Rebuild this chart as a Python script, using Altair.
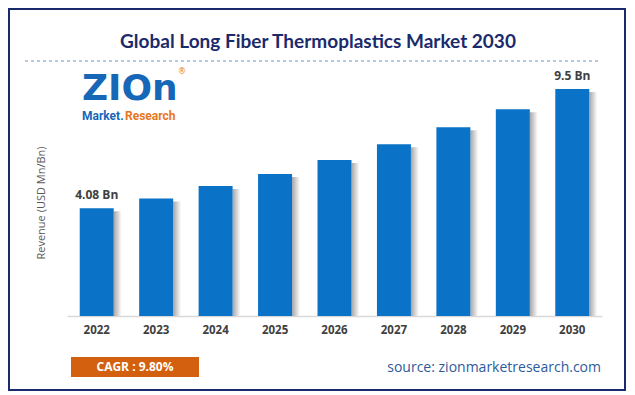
import altair as alt
import pandas as pd

years = ["2022", "2023", "2024", "2025", "2026", "2027", "2028", "2029", "2030"]
revenue = [4.08, 4.53, 5.09, 5.64, 6.27, 6.99, 7.76, 8.58, 9.5]
bar_labels = ["4.08 Bn", "", "", "", "", "", "", "", "9.5 Bn"]

title_text = "Global Long Fiber Thermoplastics Market 2030"
y_title = "Revenue (USD Mn/Bn)"
cagr_text = "CAGR : 9.80%"
source_text = "source: zionmarketresearch.com"

Y_MIN = -0.813
Y_MAX = 9.91
W, H = 535, 236

df = pd.DataFrame({"year": years, "revenue": revenue, "label": bar_labels})

def one(t):
    return pd.DataFrame({"t": [t]})

x_enc = alt.X(
    "year:O",
    scale=alt.Scale(paddingInner=0, paddingOuter=0),
    axis=alt.Axis(
        title=None, labelAngle=0, ticks=False, domainColor="#d9d9d9", domainWidth=1.5,
        labelFont="Open Sans", labelFontWeight="bold", labelFontSize=11.5,
        labelColor="#404040", labelPadding=8,
    ),
)
y_enc = alt.Y("revenue:Q", scale=alt.Scale(domain=[Y_MIN, Y_MAX]), axis=None)

base = alt.Chart(df)

shadow_grad = alt.LinearGradient(
    gradient="linear",
    stops=[alt.GradientStop(color="#a6a6a6", offset=0), alt.GradientStop(color="#ffffff", offset=1)],
    x1=0, x2=1, y1=0, y2=0,
)

shadow = base.mark_bar(size=8, xOffset=21, yOffset=3, color=shadow_grad).encode(
    x=x_enc, y=y_enc, y2=alt.datum(Y_MIN)
)
bars = base.mark_bar(size=34, color="#0a73c8").encode(
    x=x_enc, y=y_enc, y2=alt.datum(Y_MIN)
)
labels = base.mark_text(
    dy=-6, baseline="bottom", font="Open Sans", fontWeight="bold", fontSize=12, color="#404040"
).encode(x=x_enc, y=y_enc, text="label:N")

border = alt.Chart(one("b")).mark_rect(
    fill="transparent", stroke="#1a2b6d", strokeWidth=2
).encode(x=alt.value(-58), x2=alt.value(558), y=alt.value(-71), y2=alt.value(310))

title = alt.Chart(one(title_text)).mark_text(
    font="Lato", fontWeight="bold", fontSize=19, color="#1b2a6b", align="center", baseline="middle"
).encode(x=alt.value(251), y=alt.value(-38), text="t:N")

dash = alt.Chart(one("d")).mark_rule(
    color="#6a93d1", strokeDash=[3, 3], strokeWidth=1
).encode(x=alt.value(-42), x2=alt.value(533), y=alt.value(-19))

logo_zion = alt.Chart(one("ZIOn")).mark_text(
    font="DejaVu Sans", fontWeight="bold", fontSize=36, color="#1767b8", align="left", baseline="alphabetic"
).encode(x=alt.value(15), y=alt.value(20), text="t:N")
logo_market = alt.Chart(one("Market.")).mark_text(
    font="Roboto", fontWeight="bold", fontSize=12, color="#1767b8", align="left", baseline="alphabetic"
).encode(x=alt.value(15), y=alt.value(40), text="t:N")
logo_research = alt.Chart(one("Research")).mark_text(
    font="Roboto", fontWeight="bold", fontSize=12, color="#e87722", align="left", baseline="alphabetic"
).encode(x=alt.value(58), y=alt.value(40), text="t:N")
logo_reg = alt.Chart(one("®")).mark_text(
    font="DejaVu Sans", fontSize=8, color="#e87722", align="center", baseline="middle"
).encode(x=alt.value(115), y=alt.value(-8), text="t:N")

ytitle = alt.Chart(one(y_title)).mark_text(
    font="Open Sans", fontSize=11, color="#595959", angle=270, align="center", baseline="middle"
).encode(x=alt.value(-25), y=alt.value(123), text="t:N")

cagr_box = alt.Chart(one("c")).mark_rect(color="#d3600e").encode(
    x=alt.value(4), x2=alt.value(132), y=alt.value(277), y2=alt.value(297)
)
cagr = alt.Chart(one(cagr_text)).mark_text(
    font="Open Sans", fontWeight="bold", fontSize=12, color="#ffffff", align="center", baseline="middle"
).encode(x=alt.value(68), y=alt.value(287), text="t:N")

source = alt.Chart(one(source_text)).mark_text(
    font="Open Sans", fontSize=14, color="#2e5a9c", align="right", baseline="middle"
).encode(x=alt.value(534), y=alt.value(288), text="t:N")

chart = alt.layer(
    border, title, dash, logo_zion, logo_market, logo_research, logo_reg, ytitle,
    shadow, bars, labels, cagr_box, cagr, source,
).properties(
    width=W, height=H,
    padding={"left": 59, "top": 72, "right": 25, "bottom": 77},
    autosize=alt.AutoSizeParams(type="none"),
    background="white",
).configure_view(strokeWidth=0)

chart.save("out.html", embed_options={"renderer": "svg", "actions": False})
